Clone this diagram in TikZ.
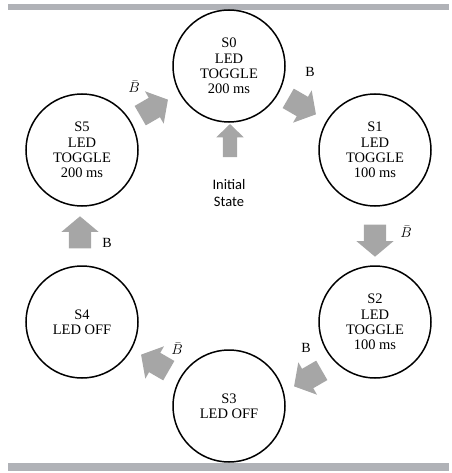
\documentclass[tikz,border=0pt]{standalone}
\usepackage{fontspec}
\setmainfont{Liberation Serif}
\newfontfamily\labelfont{Carlito}
\usepackage{amsmath}
\usetikzlibrary{shapes.arrows}
\definecolor{flowgray}{RGB}{166,166,166}
\definecolor{bargray}{RGB}{176,178,183}

\begin{document}
\begin{tikzpicture}[x=1pt, y=-1pt]
  \tikzset{
    state/.style={draw, circle, line width=1.5pt, minimum size=112pt, inner sep=0pt, align=center,
      font=\fontsize{14.5}{15.3}\selectfont},
    flow/.style={single arrow, fill=flowgray, inner xsep=0pt, inner ysep=11pt, minimum height=32pt,
      single arrow head extend=7.5pt, single arrow tip angle=100},
    startflow/.style={flow, minimum height=33pt, inner ysep=7pt, single arrow head extend=6.5pt,
      single arrow tip angle=92},
    cond/.style={inner sep=1pt, font=\fontsize{14}{16}\selectfont}
  }
  \useasboundingbox (0,0) rectangle (451,473);

  % frame bars
  \fill[bargray] (8,4) rectangle (449,10);
  \fill[bargray] (8,463) rectangle (449,471);

  % states
  \node[state] (S0) at (229,66)  {S0\\LED\\TOGGLE\\200 ms};
  \node[state] (S1) at (375,150) {S1\\LED\\TOGGLE\\100 ms};
  \node[state] (S2) at (375,322) {S2\\LED\\TOGGLE\\100 ms};
  \node[state] (S3) at (229,406) {S3\\LED OFF};
  \node[state] (S4) at (82,322)  {S4\\LED OFF};
  \node[state] (S5) at (82,150)  {S5\\LED\\TOGGLE\\200 ms};

  % transitions
  \node[flow, rotate=30]  (T50) at (150,110) {};
  \node[flow, rotate=-30] (T01) at (298,104) {};
  \node[flow, rotate=-90] (T12) at (375,236) {};
  \node[flow, rotate=210] (T23) at (312,376) {};
  \node[flow, rotate=150] (T34) at (159,365) {};
  \node[flow, rotate=90]  (T45) at (80,237)  {};

  \node[cond] (C50) at (134,87)  {$\bar{B}$};
  \node[cond] (C01) at (310,72)  {B};
  \node[cond] (C12) at (406,232) {$\bar{B}$};
  \node[cond] (C23) at (306,348) {B};
  \node[cond] (C34) at (177,349) {$\bar{B}$};
  \node[cond] (C45) at (107,243) {B};

  % initial state
  \node[startflow, rotate=90] (T00) at (230,144) {};
  \node[align=center, font=\labelfont\fontsize{14.5}{17}\selectfont] (init) at (229,193) {Initial\\State};
\end{tikzpicture}
\end{document}
